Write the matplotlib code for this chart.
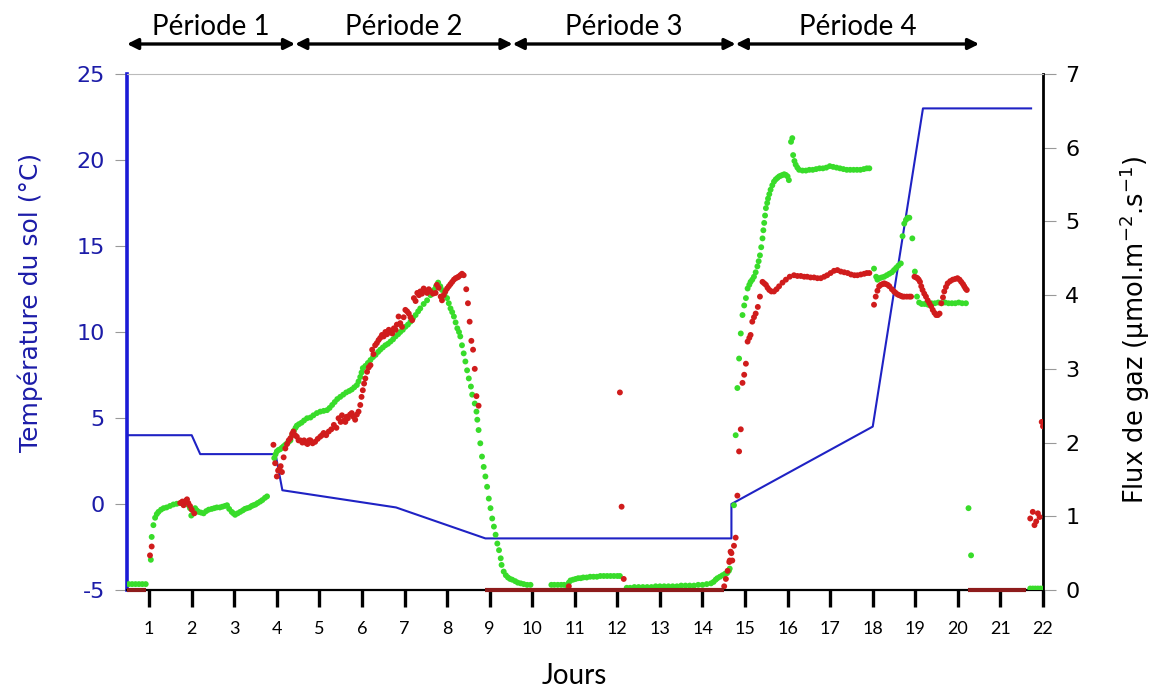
import matplotlib
matplotlib.use("Agg")
import matplotlib.pyplot as plt

# ---------------- data ----------------
day_ticks = list(range(1, 23))
temp_ticks = [-5, 0, 5, 10, 15, 20, 25]
flux_ticks = [0, 1, 2, 3, 4, 5, 6, 7]

period_labels = ["Période 1", "Période 2", "Période 3", "Période 4"]
period_bounds = [0.48, 4.43, 9.54, 14.78, 20.5]

temp_days = [0.48, 2.0, 2.2, 3.97, 4.13, 6.8, 8.9, 14.68, 14.68, 18.0, 19.18, 21.72]
temp_vals = [4.0, 4.0, 2.9, 2.9, 0.8, -0.2, -2.0, -2.0, 0.0, 4.5, 23.0, 23.0]

green_days = [
    0.52, 0.60, 0.68, 0.76, 0.84, 0.92,
    1.04, 1.06, 1.10, 1.14, 1.18, 1.22, 1.28, 1.34, 1.41, 1.49, 1.57, 1.65, 1.75, 1.85, 1.90, 1.96, 1.99,
    2.04, 2.08, 2.12, 2.16, 2.22, 2.28, 2.34, 2.40, 2.47, 2.53, 2.59, 2.66, 2.72, 2.78, 2.83, 2.88, 2.94,
    2.98, 3.02, 3.08, 3.14, 3.20, 3.25, 3.30, 3.36, 3.41, 3.45, 3.50, 3.55, 3.61, 3.66, 3.72, 3.77,
    3.94, 3.97, 4.00, 4.04, 4.08, 4.12, 4.16, 4.20, 4.24, 4.28, 4.32, 4.36, 4.40, 4.44, 4.47, 4.52, 4.58,
    4.64, 4.71, 4.79, 4.86, 4.94, 5.02, 5.10, 5.18, 5.24, 5.30, 5.36, 5.42, 5.49, 5.56, 5.63, 5.70, 5.76,
    5.82, 5.88, 5.92, 5.96, 5.99, 6.02, 6.08, 6.14, 6.20, 6.26, 6.32, 6.38, 6.43, 6.49, 6.55, 6.61, 6.67,
    6.73, 6.79, 6.85, 6.90, 6.96, 7.02, 7.08, 7.14, 7.20, 7.26, 7.32, 7.37, 7.45, 7.53, 7.61, 7.69, 7.74, 7.79,
    7.84, 7.88, 7.94, 8.00, 8.04, 8.08, 8.12, 8.16, 8.20, 8.24, 8.28, 8.31, 8.35, 8.39, 8.43, 8.47, 8.51,
    8.56, 8.59, 8.65, 8.69, 8.71, 8.74, 8.78, 8.82, 8.86, 8.90, 8.94, 8.98, 9.02, 9.06, 9.10, 9.14, 9.18,
    9.22, 9.26, 9.28, 9.33, 9.38, 9.43, 9.48, 9.53, 9.60, 9.66, 9.73, 9.80, 9.88, 9.96,
    10.45, 10.52, 10.60, 10.68, 10.75, 10.82, 10.86, 10.90, 10.96, 11.02, 11.08, 11.14, 11.20, 11.28,
    11.36, 11.44, 11.52, 11.60, 11.68, 11.76, 11.84, 11.92, 12.00, 12.06,
    12.22, 12.30, 12.40, 12.50, 12.60, 12.70, 12.80, 12.90, 13.00, 13.10, 13.20, 13.30, 13.40, 13.50,
    13.60, 13.70, 13.80, 13.90, 14.00, 14.10, 14.20, 14.26, 14.31, 14.35, 14.41, 14.47, 14.53, 14.58,
    14.62, 14.64,
    14.74, 14.78, 14.82, 14.86, 14.90, 14.94, 14.98, 15.02, 15.06, 15.10, 15.13, 15.17, 15.21, 15.25,
    15.29, 15.32, 15.35, 15.38, 15.41, 15.43, 15.45, 15.47, 15.49, 15.52, 15.54, 15.57, 15.60, 15.64,
    15.68, 15.72, 15.76, 15.80, 15.84, 15.88, 15.92, 15.96, 16.00, 16.03, 16.08, 16.11, 16.13, 16.16,
    16.19, 16.23, 16.27, 16.35, 16.43, 16.51, 16.59, 16.67, 16.75, 16.83, 16.91, 16.99, 17.07, 17.15,
    17.23, 17.31, 17.39, 17.47, 17.55, 17.63, 17.71, 17.79, 17.86, 17.92,
    18.03, 18.08, 18.11, 18.16, 18.21, 18.27, 18.33, 18.39, 18.45, 18.50, 18.55, 18.60, 18.66, 18.70,
    18.74, 18.78, 18.82, 18.86, 18.93, 18.99, 19.04, 19.09, 19.15, 19.22, 19.30, 19.38, 19.46, 19.54,
    19.62, 19.70, 19.78, 19.86, 19.94, 20.02, 20.10, 20.19, 20.25, 20.31,
    21.70, 21.76, 21.82, 21.88, 21.94, 22.00,
]
green_flux = [
    0.08, 0.08, 0.08, 0.08, 0.08, 0.08,
    0.41, 0.72, 0.88, 0.98, 1.03, 1.06, 1.09, 1.11, 1.12, 1.14, 1.16, 1.17, 1.18, 1.18, 1.16, 1.11, 1.01,
    1.07, 1.11, 1.08, 1.06, 1.05, 1.04, 1.07, 1.09, 1.10, 1.11, 1.12, 1.12, 1.13, 1.14, 1.15, 1.10, 1.06,
    1.04, 1.02, 1.04, 1.06, 1.08, 1.10, 1.11, 1.12, 1.14, 1.15, 1.16, 1.18, 1.20, 1.22, 1.25, 1.27,
    1.79, 1.84, 1.88, 1.90, 1.91, 1.93, 1.95, 1.97, 1.99, 2.01, 2.03, 2.10, 2.16, 2.20, 2.23, 2.25, 2.27,
    2.30, 2.33, 2.34, 2.37, 2.40, 2.42, 2.43, 2.44, 2.47, 2.51, 2.55, 2.59, 2.62, 2.65, 2.68, 2.70, 2.72,
    2.75, 2.78, 2.83, 2.89, 2.95, 3.01, 3.04, 3.08, 3.12, 3.16, 3.19, 3.23, 3.26, 3.29, 3.32, 3.34, 3.37,
    3.40, 3.44, 3.47, 3.50, 3.53, 3.57, 3.60, 3.64, 3.69, 3.73, 3.78, 3.82, 3.88, 3.93, 4.00, 4.07, 4.12, 4.17,
    4.12, 4.07, 4.02, 3.96, 3.89, 3.82, 3.77, 3.71, 3.63, 3.55, 3.50, 3.44, 3.32, 3.21, 3.10, 2.98, 2.87,
    2.76, 2.65, 2.53, 2.42, 2.31, 2.17, 1.99, 1.81, 1.67, 1.54, 1.40, 1.24, 1.11, 0.97, 0.86, 0.75, 0.63,
    0.54, 0.43, 0.34, 0.25, 0.20, 0.17, 0.15, 0.14, 0.12, 0.10, 0.09, 0.08, 0.07, 0.07,
    0.07, 0.07, 0.07, 0.07, 0.07, 0.06, 0.10, 0.13, 0.14, 0.15, 0.16, 0.16, 0.17, 0.17,
    0.18, 0.18, 0.18, 0.19, 0.19, 0.19, 0.19, 0.19, 0.19, 0.19,
    0.03, 0.03, 0.04, 0.04, 0.04, 0.04, 0.04, 0.05, 0.05, 0.05, 0.05, 0.05, 0.05, 0.06,
    0.06, 0.06, 0.06, 0.07, 0.07, 0.08, 0.09, 0.11, 0.14, 0.16, 0.18, 0.20, 0.22, 0.23,
    0.26, 0.29,
    1.15, 2.10, 2.74, 3.14, 3.48, 3.73, 3.86, 3.96, 4.09, 4.14, 4.18, 4.21, 4.25, 4.31,
    4.39, 4.46, 4.54, 4.65, 4.77, 4.88, 4.98, 5.08, 5.18, 5.25, 5.31, 5.37, 5.43, 5.49,
    5.54, 5.57, 5.59, 5.61, 5.62, 5.63, 5.64, 5.63, 5.61, 5.56, 6.08, 6.13, 5.90, 5.82,
    5.77, 5.73, 5.70, 5.69, 5.69, 5.70, 5.70, 5.71, 5.72, 5.72, 5.73, 5.75, 5.74, 5.73,
    5.72, 5.71, 5.70, 5.70, 5.70, 5.70, 5.70, 5.71, 5.72, 5.72,
    4.36, 4.25, 4.21, 4.23, 4.24, 4.25, 4.27, 4.29, 4.31, 4.34, 4.37, 4.40, 4.43, 4.80,
    4.97, 5.02, 5.05, 5.05, 4.77, 4.32, 3.98, 3.90, 3.88, 3.88, 3.87, 3.89, 3.89, 3.90,
    3.89, 3.90, 3.89, 3.89, 3.89, 3.90, 3.89, 3.89, 1.11, 0.47,
    0.02, 0.02, 0.02, 0.02, 0.02, 0.02,
]

red_days = [
    1.02, 1.06, 1.73, 1.78, 1.81, 1.86, 1.89, 1.92, 1.96, 2.00, 2.06,
    3.92, 3.96, 4.00, 4.03, 4.06, 4.09, 4.12, 4.16, 4.20, 4.24, 4.28, 4.32, 4.36, 4.39, 4.43, 4.47,
    4.51, 4.55, 4.60, 4.64, 4.67, 4.72, 4.76, 4.79, 4.84, 4.90, 4.96, 5.02, 5.06, 5.10, 5.16, 5.22,
    5.28, 5.34, 5.40, 5.45, 5.50, 5.53, 5.58, 5.61, 5.64, 5.67, 5.72, 5.76, 5.80, 5.84, 5.88, 5.92,
    5.96, 5.99, 6.02, 6.05, 6.08, 6.12, 6.16, 6.20, 6.24, 6.27, 6.31, 6.35, 6.39, 6.43, 6.47, 6.51,
    6.55, 6.59, 6.63, 6.67, 6.71, 6.75, 6.79, 6.82, 6.86, 6.90, 6.94, 6.98, 7.02, 7.06, 7.10, 7.14,
    7.18, 7.22, 7.26, 7.30, 7.34, 7.37, 7.41, 7.45, 7.49, 7.53, 7.57, 7.61, 7.67, 7.73, 7.76, 7.80,
    7.85, 7.88, 7.92, 7.96, 8.00, 8.04, 8.08, 8.12, 8.16, 8.20, 8.24, 8.27, 8.31, 8.35, 8.39, 8.45,
    8.49, 8.53, 8.57, 8.61, 8.65, 8.69, 8.74,
    10.86, 12.06, 12.10, 12.15,
    14.51, 14.55, 14.59, 14.63, 14.64, 14.66, 14.68, 14.70, 14.74, 14.78, 14.82, 14.86, 14.90, 14.94,
    14.98, 15.02, 15.06, 15.10, 15.13, 15.17, 15.21, 15.25, 15.30, 15.35, 15.41, 15.45, 15.49, 15.53,
    15.57, 15.62, 15.68, 15.74, 15.80, 15.88, 15.96, 16.05, 16.15, 16.23, 16.31, 16.39, 16.46, 16.54,
    16.62, 16.70, 16.78, 16.86, 16.93, 17.01, 17.09, 17.17, 17.25, 17.33, 17.41, 17.49, 17.57, 17.64,
    17.72, 17.80, 17.86, 17.92,
    18.03, 18.07, 18.11, 18.15, 18.19, 18.23, 18.27, 18.31, 18.35, 18.39, 18.45, 18.50, 18.54, 18.58,
    18.62, 18.66, 18.70, 18.74, 18.80, 18.86, 18.90, 18.98, 19.02, 19.05, 19.08, 19.11, 19.14, 19.17,
    19.21, 19.25, 19.29, 19.33, 19.37, 19.41, 19.45, 19.49, 19.53, 19.57, 19.61, 19.65, 19.68, 19.72,
    19.76, 19.82, 19.88, 19.94, 19.99, 20.04, 20.08, 20.12, 20.15, 20.18, 20.21,
    21.70, 21.76, 21.80, 21.84, 21.88, 21.92, 21.97, 22.00,
]
red_flux = [
    0.47, 0.59, 1.18, 1.20, 1.15, 1.21, 1.23, 1.18, 1.14, 1.09, 1.04,
    1.97, 1.72, 1.54, 1.62, 1.64, 1.68, 1.60, 1.80, 1.92, 1.98, 2.03, 2.06, 2.12, 2.15, 2.10, 2.08,
    2.03, 2.03, 2.00, 2.03, 2.00, 1.98, 2.03, 2.03, 1.99, 2.01, 2.05, 2.08, 2.10, 2.13, 2.10, 2.15,
    2.18, 2.24, 2.20, 2.33, 2.28, 2.37, 2.30, 2.28, 2.35, 2.33, 2.38, 2.40, 2.35, 2.31, 2.38, 2.42,
    2.51, 2.62, 2.71, 2.80, 2.87, 2.96, 3.02, 3.05, 3.26, 3.20, 3.32, 3.35, 3.39, 3.42, 3.46, 3.44,
    3.50, 3.47, 3.53, 3.51, 3.48, 3.55, 3.53, 3.60, 3.71, 3.62, 3.57, 3.70, 3.80, 3.78, 3.75, 3.70,
    3.66, 3.96, 3.92, 4.03, 4.00, 4.05, 4.02, 4.09, 4.06, 4.03, 4.08, 4.05, 4.02, 4.03, 4.14, 4.10,
    3.98, 3.93, 4.00, 4.05, 4.09, 4.12, 4.15, 4.18, 4.21, 4.23, 4.24, 4.25, 4.27, 4.29, 4.27, 4.08,
    3.89, 3.64, 3.38, 3.26, 3.00, 2.63, 2.50,
    0.05, 2.68, 1.13, 0.15,
    0.05, 0.15, 0.26, 0.38, 0.40, 0.52, 0.50, 0.40, 0.60, 0.71, 1.28, 1.88, 2.18, 2.81,
    2.92, 3.07, 3.37, 3.42, 3.46, 3.64, 3.70, 3.75, 3.84, 3.98, 4.18, 4.16, 4.14, 4.10,
    4.07, 4.05, 4.05, 4.08, 4.12, 4.17, 4.21, 4.25, 4.27, 4.26, 4.26, 4.25, 4.25, 4.24,
    4.24, 4.23, 4.23, 4.25, 4.27, 4.30, 4.33, 4.34, 4.32, 4.31, 4.30, 4.28, 4.27, 4.27,
    4.28, 4.29, 4.30, 4.30,
    3.87, 3.98, 4.06, 4.12, 4.14, 4.15, 4.16, 4.15, 4.14, 4.12, 4.08, 4.05, 4.03, 4.01,
    4.00, 3.99, 3.98, 3.98, 3.98, 3.98, 3.98, 4.25, 4.24, 4.23, 4.21, 4.18, 4.12, 4.07,
    4.02, 3.98, 3.93, 3.89, 3.85, 3.80, 3.76, 3.73, 3.73, 3.75, 3.89, 3.97, 4.05, 4.11,
    4.16, 4.19, 4.21, 4.22, 4.23, 4.21, 4.18, 4.15, 4.12, 4.09, 4.07,
    0.97, 1.06, 0.88, 0.93, 1.04, 0.99, 2.28, 2.22,
]

# runs of zero-flux measurements drawn as a continuous band (start day, end day)
red_zero_runs = [(0.48, 0.93), (8.9, 14.5), (20.23, 21.6)]

# ---------------- style ----------------
BLUE_TXT = "#1c1ca8"
BLUE_LINE = "#1f22c4"
GREEN = "#38dc2a"
RED = "#d01c1c"
DARK_RED = "#8e1c1c"

fig = plt.figure(figsize=(11.58, 6.90), dpi=100)
ax = fig.add_axes([127 / 1158, 1 - 590 / 690, (1043 - 127) / 1158, (590 - 74) / 690])
ax2 = ax.twinx()

ax.set_xlim(0.48, 22.0)
ax.set_ylim(-5, 25)
ax2.set_ylim(0, 7)

# temperature line
ax.plot(temp_days, temp_vals, color=BLUE_LINE, lw=1.5, zorder=3)

# zero runs
for a, b in red_zero_runs:
    ax2.plot([a, b], [0.0, 0.0], color=DARK_RED, lw=3.0, solid_capstyle="butt",
             zorder=5, clip_on=False)

ax2.scatter(green_days, green_flux, s=18, color=GREEN, edgecolors="none", zorder=3)
ax2.scatter(red_days, red_flux, s=18, color=RED, edgecolors="none", zorder=4)

# spines
ax.spines["left"].set_color("#1b1bd6")
ax.spines["left"].set_linewidth(2.6)
ax.spines["bottom"].set_color("black")
ax.spines["bottom"].set_linewidth(1.6)
ax.spines["top"].set_visible(False)
ax.spines["right"].set_visible(False)
ax2.spines["left"].set_visible(False)
ax2.spines["bottom"].set_visible(False)
ax2.spines["top"].set_color("#bbbbbb")
ax2.spines["top"].set_linewidth(0.8)
ax2.spines["right"].set_color("black")
ax2.spines["right"].set_linewidth(2.0)

# ticks
ax.set_xticks(day_ticks)
ax.set_xticklabels([str(d) for d in day_ticks], fontfamily="Lato", fontsize=13)
ax.tick_params(axis="x", direction="out", length=12, width=2.4, color="black", pad=10)
ax.set_yticks(temp_ticks)
ax.set_yticklabels([str(t) for t in temp_ticks], fontsize=16, color=BLUE_TXT)
ax.tick_params(axis="y", direction="out", length=9, width=0.8, color="#999999", pad=7)
ax2.set_yticks(flux_ticks)
ax2.set_yticklabels([str(t) for t in flux_ticks], fontsize=16, color="black")
ax2.tick_params(axis="y", direction="out", length=9, width=0.8, color="#999999", pad=7)

# axis labels
fig.text(30 / 1158, 1 - 302 / 690, "Température du sol (°C)", rotation=90,
         ha="center", va="center", fontsize=18, color=BLUE_TXT)
fig.text(1135 / 1158, 1 - 330 / 690, "Flux de gaz (µmol.m$^{-2}$.s$^{-1}$)", rotation=90,
         ha="center", va="center", fontsize=18.5, color="black")
fig.text(574 / 1158, 1 - 676 / 690, "Jours", ha="center", va="center",
         fontsize=20, fontfamily="Lato", color="black")

# period arrows
trans = ax.get_xaxis_transform()
y_arrow = (590 - 44) / 516
y_text = (590 - 27) / 516
for i, lab in enumerate(period_labels):
    a, b = period_bounds[i], period_bounds[i + 1]
    ax.annotate("", xy=(b, y_arrow), xytext=(a, y_arrow), xycoords=trans, textcoords=trans,
                arrowprops=dict(arrowstyle="<|-|>", color="black", lw=2.4,
                                mutation_scale=16, shrinkA=0, shrinkB=0),
                annotation_clip=False)
    ax.text((a + b) / 2, y_text, lab, transform=trans, ha="center", va="center",
            fontsize=20, fontfamily="Lato", color="black", clip_on=False)

fig.savefig("out.png", dpi=100)
